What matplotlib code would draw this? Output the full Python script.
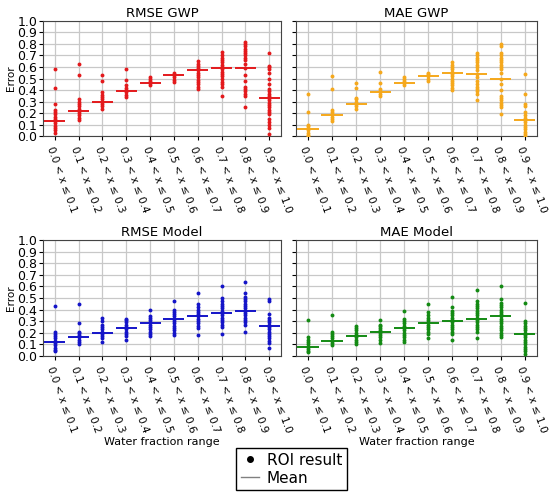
import numpy as np
import matplotlib
matplotlib.use("Agg")
import matplotlib.pyplot as plt
from matplotlib.lines import Line2D

# bins of water fraction
bin_labels = ["0.0 < x ≤ 0.1", "0.1 < x ≤ 0.2", "0.2 < x ≤ 0.3", "0.3 < x ≤ 0.4",
              "0.4 < x ≤ 0.5", "0.5 < x ≤ 0.6", "0.6 < x ≤ 0.7", "0.7 < x ≤ 0.8",
              "0.8 < x ≤ 0.9", "0.9 < x ≤ 1.0"]

# ROI results, one list per bin
rmse_gwp = [
    [0.03, 0.05, 0.07, 0.09, 0.11, 0.13, 0.15, 0.17, 0.19, 0.21, 0.23, 0.28, 0.42, 0.58],
    [0.14, 0.16, 0.18, 0.20, 0.22, 0.24, 0.26, 0.28, 0.30, 0.32, 0.53, 0.63],
    [0.24, 0.26, 0.28, 0.30, 0.32, 0.34, 0.36, 0.38, 0.48, 0.53],
    [0.34, 0.36, 0.38, 0.40, 0.42, 0.44, 0.49, 0.58],
    [0.44, 0.46, 0.48, 0.50, 0.51],
    [0.47, 0.49, 0.51, 0.53, 0.55],
    [0.41, 0.43, 0.45, 0.47, 0.49, 0.51, 0.53, 0.55, 0.57, 0.59, 0.61, 0.63, 0.65],
    [0.35, 0.43, 0.45, 0.47, 0.50, 0.52, 0.54, 0.56, 0.58, 0.60, 0.62, 0.64, 0.66, 0.68, 0.70, 0.73],
    [0.25, 0.35, 0.37, 0.39, 0.41, 0.43, 0.48, 0.53, 0.59, 0.63, 0.66, 0.68, 0.70, 0.72, 0.74, 0.76, 0.78, 0.80, 0.82],
    [0.02, 0.07, 0.10, 0.12, 0.15, 0.19, 0.21, 0.23, 0.25, 0.27, 0.29, 0.31, 0.33, 0.35, 0.37, 0.39, 0.41,
     0.45, 0.50, 0.55, 0.58, 0.60, 0.61, 0.72],
]
mae_gwp = [
    [0.00, 0.01, 0.03, 0.05, 0.07, 0.09, 0.10, 0.21, 0.37],
    [0.13, 0.15, 0.17, 0.19, 0.21, 0.23, 0.41, 0.52],
    [0.24, 0.26, 0.28, 0.30, 0.32, 0.33, 0.42, 0.46],
    [0.35, 0.37, 0.39, 0.41, 0.46, 0.56],
    [0.44, 0.46, 0.48, 0.50, 0.51],
    [0.48, 0.50, 0.52, 0.54, 0.55],
    [0.40, 0.42, 0.44, 0.46, 0.48, 0.50, 0.52, 0.54, 0.56, 0.58, 0.60, 0.62, 0.64],
    [0.31, 0.37, 0.39, 0.41, 0.43, 0.45, 0.48, 0.51, 0.54, 0.57, 0.60, 0.62, 0.64, 0.66, 0.68, 0.70, 0.72],
    [0.19, 0.25, 0.27, 0.29, 0.31, 0.33, 0.35, 0.40, 0.45, 0.50, 0.55, 0.58, 0.60, 0.62, 0.64, 0.66, 0.68,
     0.70, 0.72, 0.78, 0.80],
    [0.00, 0.02, 0.04, 0.06, 0.08, 0.10, 0.12, 0.14, 0.16, 0.18, 0.21, 0.26, 0.28, 0.37, 0.54],
]
rmse_model = [
    [0.04, 0.05, 0.07, 0.09, 0.11, 0.13, 0.15, 0.17, 0.19, 0.21, 0.43],
    [0.10, 0.12, 0.14, 0.16, 0.18, 0.20, 0.21, 0.28, 0.45],
    [0.12, 0.15, 0.17, 0.19, 0.21, 0.23, 0.25, 0.27, 0.30, 0.33],
    [0.14, 0.17, 0.19, 0.21, 0.23, 0.25, 0.27, 0.29, 0.31, 0.32],
    [0.17, 0.19, 0.21, 0.23, 0.25, 0.27, 0.29, 0.31, 0.33, 0.34, 0.40],
    [0.18, 0.20, 0.22, 0.24, 0.26, 0.28, 0.30, 0.32, 0.34, 0.36, 0.38, 0.40, 0.47],
    [0.18, 0.24, 0.26, 0.28, 0.30, 0.32, 0.34, 0.36, 0.38, 0.40, 0.42, 0.45, 0.54],
    [0.19, 0.25, 0.27, 0.29, 0.31, 0.33, 0.35, 0.37, 0.39, 0.41, 0.43, 0.45, 0.47, 0.50, 0.60],
    [0.21, 0.27, 0.29, 0.31, 0.33, 0.35, 0.37, 0.39, 0.41, 0.43, 0.45, 0.47, 0.49, 0.51, 0.54, 0.64],
    [0.07, 0.11, 0.13, 0.15, 0.17, 0.19, 0.21, 0.23, 0.25, 0.27, 0.29, 0.31, 0.33, 0.36, 0.47, 0.49],
]
mae_model = [
    [0.03, 0.04, 0.06, 0.08, 0.10, 0.12, 0.14, 0.16, 0.31],
    [0.09, 0.11, 0.13, 0.15, 0.17, 0.19, 0.21, 0.35],
    [0.10, 0.12, 0.14, 0.16, 0.18, 0.20, 0.22, 0.24, 0.26],
    [0.11, 0.14, 0.16, 0.18, 0.20, 0.22, 0.24, 0.26, 0.27, 0.31],
    [0.12, 0.14, 0.16, 0.18, 0.20, 0.22, 0.24, 0.26, 0.28, 0.30, 0.32, 0.39],
    [0.15, 0.19, 0.21, 0.23, 0.25, 0.27, 0.29, 0.31, 0.33, 0.35, 0.38, 0.45],
    [0.14, 0.19, 0.21, 0.23, 0.25, 0.27, 0.29, 0.31, 0.33, 0.35, 0.37, 0.39, 0.42, 0.51],
    [0.15, 0.21, 0.23, 0.25, 0.27, 0.29, 0.31, 0.33, 0.35, 0.37, 0.39, 0.41, 0.43, 0.45, 0.47, 0.57],
    [0.16, 0.18, 0.20, 0.22, 0.24, 0.26, 0.28, 0.30, 0.32, 0.34, 0.36, 0.38, 0.40, 0.42, 0.44, 0.46, 0.49, 0.60],
    [0.02, 0.04, 0.06, 0.08, 0.10, 0.12, 0.14, 0.16, 0.18, 0.20, 0.22, 0.24, 0.26, 0.28, 0.30, 0.46],
]

# means per bin
rmse_gwp_mean = [0.13, 0.22, 0.30, 0.39, 0.46, 0.53, 0.57, 0.59, 0.59, 0.33]
mae_gwp_mean = [0.06, 0.18, 0.28, 0.38, 0.46, 0.52, 0.55, 0.54, 0.50, 0.14]
rmse_model_mean = [0.12, 0.16, 0.20, 0.24, 0.28, 0.32, 0.34, 0.37, 0.39, 0.26]
mae_model_mean = [0.08, 0.13, 0.17, 0.21, 0.24, 0.28, 0.30, 0.32, 0.34, 0.19]

panels = [
    ("RMSE GWP", rmse_gwp, rmse_gwp_mean, "#e3191c", [0.078, 0.726, 0.433, 0.232]),
    ("MAE GWP", mae_gwp, mae_gwp_mean, "#f5a81c", [0.538, 0.726, 0.438, 0.232]),
    ("RMSE Model", rmse_model, rmse_model_mean, "#1414c8", [0.078, 0.284, 0.433, 0.233]),
    ("MAE Model", mae_model, mae_model_mean, "#138a13", [0.538, 0.284, 0.438, 0.233]),
]

fig = plt.figure(figsize=(5.5, 4.97), dpi=100)

for i, (title, pts, means, col, pos) in enumerate(panels):
    ax = fig.add_axes(pos)
    for k in range(len(bin_labels)):
        ax.plot([k] * len(pts[k]), pts[k], 'o', color=col, markersize=2.8, markeredgewidth=0, zorder=3)
    ax.hlines(means, np.arange(len(means)) - 0.44, np.arange(len(means)) + 0.44,
              colors=col, linewidth=1.4, zorder=4)
    ax.set_xlim(-0.5, 9.5)
    ax.set_ylim(0, 1.0)
    ax.set_yticks(np.round(np.arange(0, 1.01, 0.1), 1))
    ax.set_xticks(range(len(bin_labels)))
    ax.set_xticklabels(bin_labels, rotation=-70, ha='left', va='top', rotation_mode='anchor', fontsize=7.5)
    ax.grid(True, color='#c8c8c8', linewidth=0.9)
    ax.set_axisbelow(True)
    ax.set_title(title, fontsize=9.5, pad=3)
    ax.tick_params(axis='y', labelsize=9, length=3, pad=1)
    ax.tick_params(axis='x', length=3)
    for s in ax.spines.values():
        s.set_color('#444444')
    if i % 2 == 0:
        ax.set_ylabel("Error", fontsize=7.5, labelpad=1)
    else:
        ax.set_yticklabels([])
    if i >= 2:
        ax.set_xlabel("Water fraction range", fontsize=8, labelpad=2)

handles = [Line2D([], [], marker='o', color='black', linestyle='none', markersize=4),
           Line2D([], [], color='gray', linewidth=1)]
fig.legend(handles, ["ROI result", "Mean"], loc='center', bbox_to_anchor=(0.53, 0.056),
           fontsize=11, frameon=True, fancybox=False, edgecolor='black', framealpha=1,
           handlelength=1.2, handletextpad=0.5, borderpad=0.3, labelspacing=0.2)

fig.savefig("out.png", dpi=100)
